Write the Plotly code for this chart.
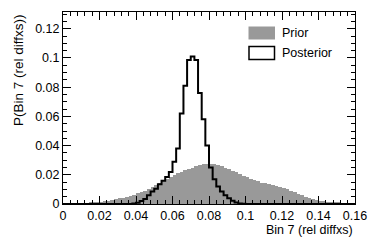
import numpy as np
import plotly.graph_objects as go

# ---- data (80 bins, 0 .. 0.16) ----
x_min, x_max, n_bins = 0.0, 0.16, 80

prior = [
    0.0000, 0.0000, 0.0001, 0.0001, 0.0003, 0.0004, 0.0006, 0.0008, 0.0010, 0.0013,
    0.0016, 0.0019, 0.0022, 0.0027, 0.0032, 0.0038, 0.0044, 0.0050, 0.0057, 0.0065,
    0.0072, 0.0081, 0.0091, 0.0104, 0.0118, 0.0132, 0.0146, 0.0160, 0.0174, 0.0188,
    0.0200, 0.0211, 0.0220, 0.0230, 0.0240, 0.0249, 0.0257, 0.0264, 0.0271, 0.0276,
    0.0274, 0.0271, 0.0267, 0.0259, 0.0250, 0.0240, 0.0228, 0.0216, 0.0205, 0.0194,
    0.0184, 0.0173, 0.0164, 0.0155, 0.0147, 0.0141, 0.0135, 0.0129, 0.0123, 0.0117,
    0.0109, 0.0100, 0.0090, 0.0080, 0.0070, 0.0060, 0.0051, 0.0042, 0.0035, 0.0028,
    0.0023, 0.0018, 0.0015, 0.0012, 0.0009, 0.0007, 0.0005, 0.0004, 0.0003, 0.0002,
]

posterior = [
    0.0, 0.0, 0.0, 0.0, 0.0, 0.0, 0.0, 0.0, 0.0, 0.0,
    0.0, 0.0, 0.0, 0.0, 0.0, 0.0, 0.0, 0.0, 0.0, 0.0003,
    0.0008, 0.0020, 0.0035, 0.0060, 0.0085, 0.0105, 0.0135, 0.0160, 0.0185, 0.0220,
    0.0290, 0.0380, 0.0620, 0.0810, 0.0987, 0.1010, 0.0987, 0.0760, 0.0580, 0.0400,
    0.0250, 0.0170, 0.0120, 0.0085, 0.0060, 0.0040, 0.0023, 0.0010, 0.0004, 0.0001,
    0.0, 0.0, 0.0, 0.0, 0.0, 0.0, 0.0, 0.0, 0.0, 0.0,
    0.0, 0.0, 0.0, 0.0, 0.0, 0.0, 0.0, 0.0, 0.0, 0.0,
    0.0, 0.0, 0.0, 0.0, 0.0, 0.0, 0.0, 0.0, 0.0, 0.0,
]

x_ticks = [0, 0.02, 0.04, 0.06, 0.08, 0.1, 0.12, 0.14, 0.16]
x_ticklabels = ["0", "0.02", "0.04", "0.06", "0.08", "0.1", "0.12", "0.14", "0.16"]
y_ticks = [0, 0.02, 0.04, 0.06, 0.08, 0.1, 0.12]
y_ticklabels = ["0", "0.02", "0.04", "0.06", "0.08", "0.1", "0.12"]

x_title = "Bin 7 (rel diffxs)"
y_title = "P(Bin 7 (rel diffxs))"
legend_labels = ["Prior", "Posterior"]

# ---- build ----
edges = np.linspace(x_min, x_max, n_bins + 1)
centers = 0.5 * (edges[:-1] + edges[1:])
bw = edges[1] - edges[0]
post = np.array(posterior)

FONT = "Liberation Sans, Arial, Helvetica, sans-serif"
GRAY = "#999999"

fig = go.Figure()
fig.add_trace(go.Bar(x=centers, y=prior, width=bw, marker=dict(color=GRAY, line=dict(width=0)),
                     showlegend=False, hoverinfo="skip"))
fig.add_trace(go.Scatter(x=edges, y=np.append(post, post[-1]), mode="lines", line_shape="hv",
                         line=dict(color="black", width=2), showlegend=False, hoverinfo="skip"))

L, R, T, B = 63, 19, 12, 37
W, H = 374, 241
pw, ph = W - L - R, H - T - B

def px(xp):
    return (xp - L) / pw

def py(yp):
    return (T + ph - yp) / ph

axis_common = dict(
    showgrid=False, zeroline=False, showline=True, linecolor="black", linewidth=1,
    mirror="allticks", ticks="inside", ticklen=8, tickwidth=1, tickcolor="black",
    tickfont=dict(family=FONT, size=12.5, color="black"),
)

fig.update_xaxes(range=[x_min, x_max], tickmode="array", tickvals=x_ticks, ticktext=x_ticklabels,
                 minor=dict(ticks="inside", dtick=0.004, tick0=0, ticklen=4, tickcolor="black", tickwidth=1),
                 automargin=False, **axis_common)
fig.update_yaxes(range=[0, 0.1315], tickmode="array", tickvals=y_ticks, ticktext=y_ticklabels,
                 minor=dict(ticks="inside", dtick=0.005, tick0=0, ticklen=4, tickcolor="black", tickwidth=1),
                 automargin=False, **axis_common)

shapes = [
    dict(type="rect", xref="paper", yref="paper", x0=px(248.5), x1=px(275), y0=py(39.5), y1=py(26.5),
         fillcolor=GRAY, line=dict(width=0)),
    dict(type="rect", xref="paper", yref="paper", x0=px(249), x1=px(274.5), y0=py(59.5), y1=py(46.5),
         fillcolor="white", line=dict(color="black", width=1.5)),
]

annotations = [
    dict(text=legend_labels[0], xref="paper", yref="paper", x=px(280), y=py(33), xanchor="left",
         yanchor="middle", showarrow=False, font=dict(family=FONT, size=12.5, color="black")),
    dict(text=legend_labels[1], xref="paper", yref="paper", x=px(280), y=py(53), xanchor="left",
         yanchor="middle", showarrow=False, font=dict(family=FONT, size=12.5, color="black")),
    dict(text=x_title, xref="paper", yref="paper", x=1.0, y=py(230), xanchor="right",
         yanchor="middle", showarrow=False, font=dict(family=FONT, size=12.5, color="black")),
    dict(text=y_title, xref="paper", yref="paper", x=px(18), y=1.0, xanchor="center",
         yanchor="top", textangle=-90, showarrow=False, font=dict(family=FONT, size=13.5, color="black")),
]

fig.update_layout(
    width=W, height=H, margin=dict(l=L, r=R, t=T, b=B, pad=0),
    paper_bgcolor="white", plot_bgcolor="white", bargap=0, showlegend=False,
    shapes=shapes, annotations=annotations,
    font=dict(family=FONT, size=12, color="black"),
)

fig.write_html("out.html", config={"displayModeBar": False},
               post_script="document.body.style.margin='0px';document.body.style.padding='0px';")
